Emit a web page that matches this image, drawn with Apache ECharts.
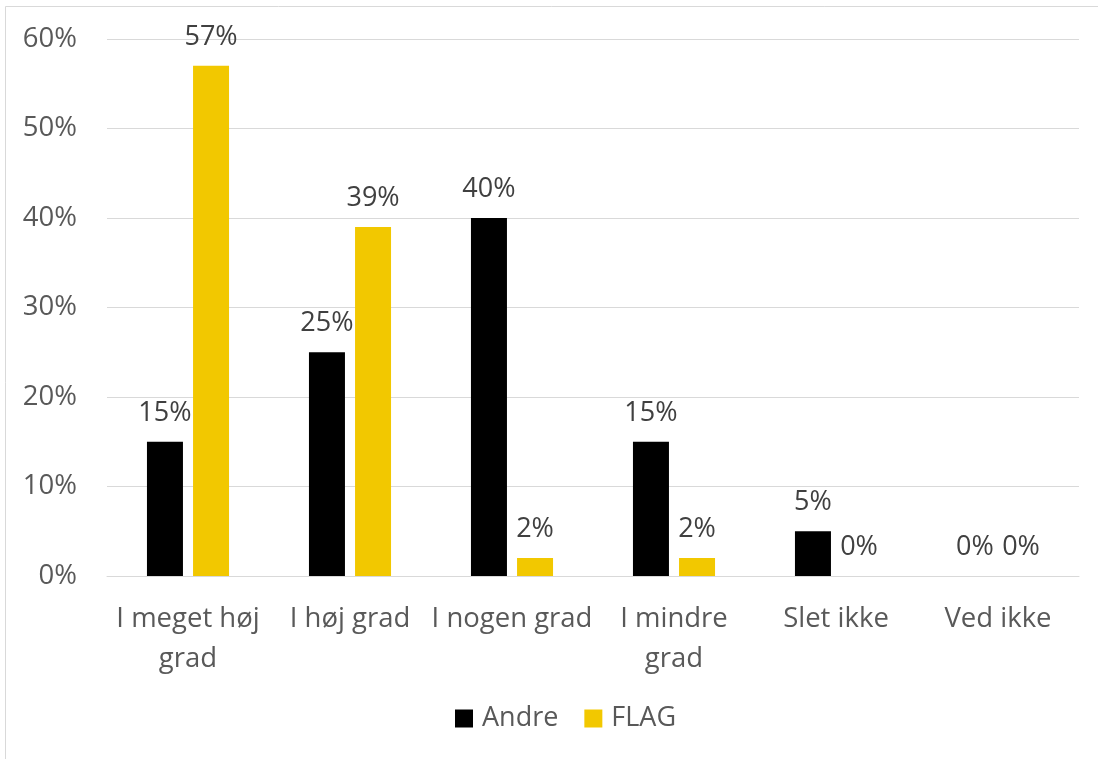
<!DOCTYPE html>
<html>
<head>
<meta charset="utf-8">
<script src="https://cdn.jsdelivr.net/npm/echarts@6/dist/echarts.min.js"></script>
<style>
html,body{margin:0;padding:0;background:#fff;}
#chart{width:1098px;height:759px;}
</style>
</head>
<body>
<div id="chart"></div>
<script>
const categories = ['I meget høj\ngrad', 'I høj grad', 'I nogen grad', 'I mindre\ngrad', 'Slet ikke', 'Ved ikke'];
const andre = [15, 25, 40, 15, 5, 0];
const flag = [57, 39, 2, 2, 0, 0];
const seriesNames = ['Andre', 'FLAG'];
const yTicks = [0, 10, 20, 30, 40, 50, 60];

const FONT = '"Open Sans", sans-serif';
const chart = echarts.init(document.getElementById('chart'));
const labelStyle = {
  show: true, position: 'top', distance: 15,
  formatter: p => p.value + '%',
  color: '#404040', fontSize: 27, fontFamily: FONT
};
chart.setOption({
  animation: false,
  backgroundColor: '#fff',
  graphic: [{
    type: 'polyline', silent: true,
    shape: { points: [[5.5, 759], [5.5, 6.5], [1098, 6.5]] },
    style: { stroke: '#d9d9d9', lineWidth: 1, fill: null }
  }],
  grid: { left: 107, right: 19, top: 39, bottom: 183, containLabel: false },
  legend: {
    data: seriesNames, bottom: 22, left: 450,
    itemWidth: 18, itemHeight: 18, itemGap: 26,
    icon: 'rect',
    textStyle: { color: '#595959', fontSize: 27, fontFamily: FONT, padding: [0, 0, 0, 4] }
  },
  xAxis: {
    type: 'category', data: categories,
    axisLine: { show: true, lineStyle: { color: '#d9d9d9', width: 1 } },
    axisTick: { show: false },
    axisLabel: { interval: 0, margin: 23, color: '#595959', fontSize: 27.5, fontFamily: FONT, lineHeight: 40 }
  },
  yAxis: {
    type: 'value', min: yTicks[0], max: yTicks[yTicks.length - 1], interval: 10,
    axisLine: { show: false }, axisTick: { show: false },
    splitLine: { lineStyle: { color: '#d9d9d9', width: 1 } },
    axisLabel: { margin: 30, formatter: v => v + '%', color: '#595959', fontSize: 27.5, fontFamily: FONT }
  },
  series: [
    { name: seriesNames[0], type: 'bar', data: andre, barWidth: 36, barGap: '28%',
      itemStyle: { color: '#000000' }, label: labelStyle },
    { name: seriesNames[1], type: 'bar', data: flag, barWidth: 36,
      itemStyle: { color: '#f2c800' }, label: labelStyle }
  ]
});
</script>
</body>
</html>
